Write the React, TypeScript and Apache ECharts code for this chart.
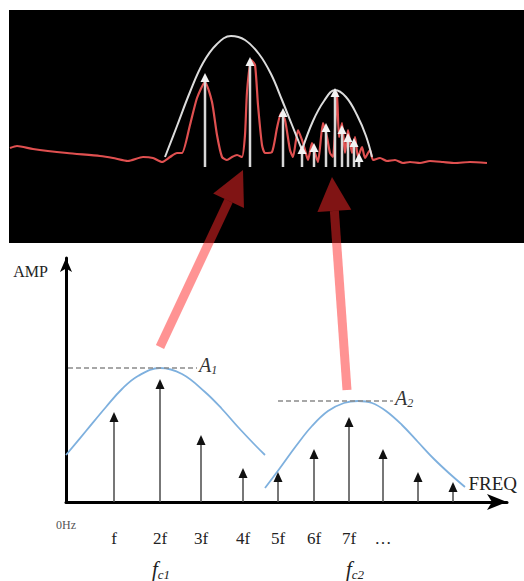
import React, { useEffect, useRef } from "react";
import * as echarts from "echarts";

const SERIF = "'Liberation Serif', 'Times New Roman', 'DejaVu Serif', serif";

// ---------- top panel: measured spectrum (x = frequency bin, y = level) ----------
const spectrumTrace: number[][] = [
  [1, 95], [8, 97], [24, 94], [58, 90], [91, 87], [104, 85], [119, 82], [134, 86], [144, 85],
  [153, 81], [161, 86], [168, 90], [173, 90], [181, 118], [188, 145], [196, 161], [203, 141],
  [208, 108], [213, 86], [218, 83], [223, 86], [228, 88], [233, 86], [236, 108], [238, 151],
  [242, 183], [246, 178], [249, 138], [253, 98], [256, 90], [263, 91], [268, 115], [272, 130],
  [276, 123], [281, 93], [284, 86], [289, 113], [293, 103], [296, 93], [299, 83], [303, 100],
  [306, 90], [309, 81], [314, 120], [318, 106], [321, 90], [324, 86], [328, 150], [330, 106],
  [333, 120], [336, 90], [339, 113], [343, 90], [346, 106], [349, 86], [353, 96], [356, 85],
  [361, 93], [364, 83], [371, 85], [378, 82], [386, 83], [394, 80], [401, 81], [411, 80],
  [421, 82], [434, 81], [446, 80], [461, 81], [478, 80],
];
const topEnvelope1: number[][] = [
  [156, 86], [168, 117], [181, 151], [194, 180], [208, 199], [222, 207], [236, 203],
  [250, 189], [262, 169], [273, 143], [283, 118], [293, 93],
];
const topEnvelope2: number[][] = [
  [293, 93], [304, 122], [315, 142], [326, 153], [337, 146], [348, 128], [357, 107], [363, 86],
];
const topStemX = [196, 241, 274, 293, 305, 317, 326, 333, 339, 345, 350];
const topStemLevel = [170, 186, 135, 98, 100, 120, 155, 118, 110, 105, 90];
const topStemBase = 76;

// annotation arrows: [tailX, tailY, tipX, tipY] in top-panel units
const linkArrows: number[][] = [
  [151, -104, 234, 73],
  [338, -147, 323, 66],
];

// ---------- bottom panel: ideal spectrum ----------
const harmonicX = [48, 94, 135, 177, 212, 248, 283, 317, 352, 387];
const harmonicAmp = [90, 123, 67, 34, 30, 53, 85, 53, 30, 20];
const harmonicLabels = ["f", "2f", "3f", "4f", "5f", "6f", "7f", "…"];
const lobe1: number[][] = [
  [0, 47], [20, 71], [40, 95], [56, 113], [72, 126], [94, 134], [116, 128], [139, 110],
  [156, 93], [172, 75], [189, 57], [199, 47],
];
const lobe2: number[][] = [
  [199, 14], [214, 34], [230, 56], [246, 76], [262, 91], [278, 99], [292, 101], [306, 99],
  [320, 91], [336, 77], [352, 60], [368, 43], [384, 28], [399, 15],
];
const peakLevelA1: number[][] = [[2, 134], [131, 134]];
const peakLevelA2: number[][] = [[212, 101], [327, 101]];
const peakNames = ["1", "2"];
const carrierX = [95, 289];
const carrierSubs = ["c1", "c2"];

const arrowStem = (base: number, color: string, headColor: string, lw: number, hw: number, hh: number) =>
  (params: any, api: any) => {
    const x = api.value(0);
    const top = api.value(1);
    const p0 = api.coord([x, base]);
    const p1 = api.coord([x, top]);
    return {
      type: "group",
      children: [
        { type: "line", shape: { x1: p0[0], y1: p0[1], x2: p1[0], y2: p1[1] + hh - 1 }, style: { stroke: color, lineWidth: lw } },
        {
          type: "polygon",
          shape: { points: [[p1[0], p1[1]], [p1[0] - hw, p1[1] + hh], [p1[0] + hw, p1[1] + hh]] },
          style: { fill: headColor },
        },
      ],
    };
  };

export default function App() {
  const ref = useRef<HTMLDivElement>(null);
  useEffect(() => {
    if (!ref.current) return;
    const chart = echarts.init(ref.current, null, { renderer: "svg" });
    const linkColor = "rgba(255,40,40,0.5)";
    const option: any = {
      animation: false,
      backgroundColor: "#fff",
      grid: [
        { left: 9, top: 10, right: 0, height: 233, show: true, backgroundColor: "#000", borderWidth: 0 },
        { left: 66, top: 258, right: 17, bottom: 79 },
      ],
      xAxis: [
        { gridIndex: 0, type: "value", min: 0, max: 515, show: false },
        {
          gridIndex: 1, type: "value", min: 0, max: 441, position: "bottom",
          axisLine: { show: true, onZero: false, lineStyle: { color: "#000", width: 3 }, symbol: ["none", "arrow"], symbolSize: [12, 20] },
          axisTick: { show: false },
          splitLine: { show: false },
          axisLabel: {
            customValues: harmonicX.slice(0, harmonicLabels.length),
            formatter: (v: number) => harmonicLabels[harmonicX.indexOf(v)] ?? "",
            margin: 28, fontSize: 17, color: "#222", fontFamily: SERIF,
          },
          name: "FREQ", nameLocation: "end", nameGap: 10,
          nameTextStyle: { align: "right", verticalAlign: "bottom", padding: [0, 0, 9, 0], fontSize: 19, color: "#222", fontFamily: SERIF },
        },
        {
          gridIndex: 1, type: "value", min: 0, max: 441, position: "bottom",
          axisLine: { show: false }, axisTick: { show: false }, splitLine: { show: false },
          axisLabel: { customValues: [0], formatter: () => "0Hz", margin: 17, fontSize: 12, color: "#555", fontFamily: SERIF },
        },
        {
          gridIndex: 1, type: "value", min: 0, max: 441, position: "bottom",
          axisLine: { show: false }, axisTick: { show: false }, splitLine: { show: false },
          axisLabel: {
            customValues: carrierX,
            formatter: (v: number) => `{f|f}{s|${carrierSubs[carrierX.indexOf(v)] ?? ""}}`,
            margin: 55,
            rich: {
              f: { fontSize: 21, fontStyle: "italic", fontFamily: SERIF, color: "#222", lineHeight: 24 },
              s: { fontSize: 13, fontStyle: "italic", fontFamily: SERIF, color: "#222", verticalAlign: "bottom", lineHeight: 9 },
            },
          },
        },
      ],
      yAxis: [
        { gridIndex: 0, type: "value", min: 0, max: 233, show: false },
        {
          gridIndex: 1, type: "value", min: 0, max: 244,
          axisLine: { show: true, onZero: false, lineStyle: { color: "#000", width: 3 }, symbol: ["none", "arrow"], symbolSize: [9, 14] },
          axisTick: { show: false }, axisLabel: { show: false }, splitLine: { show: false },
          name: "AMP", nameLocation: "end", nameGap: 0,
          nameTextStyle: { align: "right", verticalAlign: "top", padding: [5, 18, 0, 0], fontSize: 16, color: "#222", fontFamily: SERIF },
        },
      ],
      series: [
        {
          type: "line", xAxisIndex: 0, yAxisIndex: 0, data: spectrumTrace, showSymbol: false, smooth: 0.2,
          lineStyle: { color: "#e05050", width: 2.2 }, z: 2,
        },
        {
          type: "line", xAxisIndex: 0, yAxisIndex: 0, data: topEnvelope1, showSymbol: false, smooth: 0.4,
          lineStyle: { color: "#dcdcdc", width: 2 }, z: 3,
        },
        {
          type: "line", xAxisIndex: 0, yAxisIndex: 0, data: topEnvelope2, showSymbol: false, smooth: 0.4,
          lineStyle: { color: "#dcdcdc", width: 2 }, z: 3,
        },
        {
          type: "custom", xAxisIndex: 0, yAxisIndex: 0, z: 4,
          data: topStemX.map((x, i) => [x, topStemLevel[i]]),
          renderItem: arrowStem(topStemBase, "#d8d8d8", "#f2f2f2", 2.5, 4.5, 9),
        },
        {
          type: "line", xAxisIndex: 1, yAxisIndex: 1, data: lobe1, showSymbol: false, smooth: 0.4,
          lineStyle: { color: "#7eb0de", width: 1.8 }, z: 2,
        },
        {
          type: "line", xAxisIndex: 1, yAxisIndex: 1, data: lobe2, showSymbol: false, smooth: 0.4,
          lineStyle: { color: "#7eb0de", width: 1.8 }, z: 2,
        },
        ...[peakLevelA1, peakLevelA2].map((d, i) => ({
          type: "line", xAxisIndex: 1, yAxisIndex: 1, data: d, showSymbol: false,
          lineStyle: { color: "#8a8a8a", width: 1.5, type: [5, 3] }, z: 2,
          endLabel: {
            show: true, distance: 2, offset: [0, -3],
            formatter: () => `{a|A}{s|${peakNames[i]}}`,
            rich: {
              a: { fontSize: 20, fontStyle: "italic", fontFamily: SERIF, color: "#333", lineHeight: 22 },
              s: { fontSize: 12, fontStyle: "italic", fontFamily: SERIF, color: "#333", verticalAlign: "bottom", lineHeight: 8 },
            },
          },
        })),
        {
          type: "custom", xAxisIndex: 1, yAxisIndex: 1, z: 4,
          data: harmonicX.map((x, i) => [x, harmonicAmp[i]]),
          renderItem: arrowStem(0, "#4a4a4a", "#111", 1.5, 4.5, 10),
        },
        {
          type: "custom", xAxisIndex: 0, yAxisIndex: 0, z: 10, clip: false,
          data: linkArrows,
          renderItem: (params: any, api: any) => {
            const t = api.coord([api.value(0), api.value(1)]);
            const h = api.coord([api.value(2), api.value(3)]);
            const dx = h[0] - t[0], dy = h[1] - t[1];
            const L = Math.hypot(dx, dy);
            const ux = dx / L, uy = dy / L;
            const headLen = 34, headHalf = 17;
            const bx = h[0] - ux * headLen, by = h[1] - uy * headLen;
            const px = -uy, py = ux;
            return {
              type: "group",
              children: [
                { type: "line", shape: { x1: t[0], y1: t[1], x2: bx, y2: by }, style: { stroke: linkColor, lineWidth: 9 } },
                {
                  type: "polygon",
                  shape: { points: [[h[0], h[1]], [bx + px * headHalf, by + py * headHalf], [bx - px * headHalf, by - py * headHalf]] },
                  style: { fill: linkColor },
                },
              ],
            };
          },
        },
      ],
    };
    chart.setOption(option);
    return () => chart.dispose();
  }, []);
  return <div ref={ref} style={{ position: "fixed", left: 0, top: 0, width: 524, height: 581 }} />;
}
